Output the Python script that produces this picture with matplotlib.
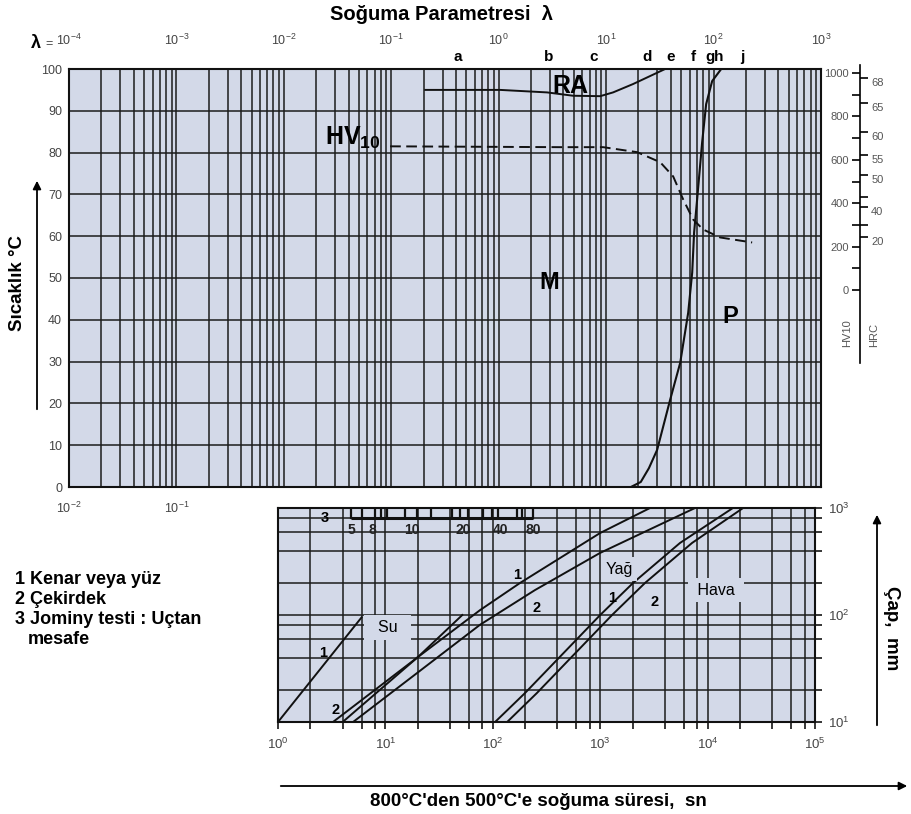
import matplotlib
matplotlib.use('Agg')
import matplotlib.pyplot as plt
from matplotlib.patches import FancyArrowPatch
from matplotlib.ticker import NullLocator

plt.rcParams['font.family'] = ['Liberation Sans', 'DejaVu Sans']
plt.rcParams['mathtext.fontset'] = 'custom'
plt.rcParams['mathtext.rm'] = 'Liberation Sans'
plt.rcParams['mathtext.it'] = 'Liberation Sans:italic'
plt.rcParams['mathtext.bf'] = 'Liberation Sans:bold'

W, H = 912, 814
BG = '#d3d9e8'
GRID = '#1c1c1c'
TICKC = '#444444'

# ---------------- data: upper chart (x = cooling time s, y = temperature) ----------------
ra_time = [20.7, 103, 282, 493, 880, 1160, 1780, 3540]
ra_temp = [95.0, 95.0, 94.4, 93.6, 93.5, 94.4, 96.4, 100]

hv_time = [9.75, 373, 938, 1946, 3186, 4207, 5212, 6457, 8000, 11500, 22860]
hv_temp = [81.5, 81.3, 81.3, 80.1, 77.7, 74.3, 68.8, 64.0, 61.6, 59.7, 58.5]

mp_time = [1700, 2100, 2500, 2985, 3945, 4890, 5805, 6325, 6590, 7030, 7830, 8530, 9700, 11780]
mp_temp = [0, 1.2, 4.5, 8.9, 20.9, 29.7, 41.7, 51.3, 60.9, 68.8, 82.5, 91.6, 97.1, 100]

temp_ticks = list(range(0, 101, 10))
lambda_exps = [-4, -3, -2, -1, 0, 1, 2, 3]
lam_letters = ['a', 'b', 'c', 'd', 'e', 'f', 'g', 'h', 'j']
lam_letter_pos = [0.42, 2.9, 7.7, 24, 40, 65, 93, 111, 185]

hv_scale_ticks = list(range(0, 1001, 100))
hrc_labels = ['68', '65', '60', '55', '50', '', '40', '', '20']
hrc_hv_equiv = [975, 863, 730, 622, 530, 430, 384, 300, 246]

# ---------------- data: lower chart (x = time s, y = diameter mm) ----------------
su1_t = [1.0, 6.0]
su1_d = [10, 95]
su2_t = [3.25, 20.1, 52]
su2_d = [10, 40.5, 100]
yag1_t = [4.0, 20.1, 76, 179, 996, 2910]
yag1_d = [10, 40.5, 111, 199, 583, 1000]
yag2_t = [5.0, 20, 76, 247, 996, 7640]
yag2_d = [10, 29, 81, 171, 380, 1000]
hava1_t = [105, 200, 1000, 2020, 5530, 17200]
hava1_d = [10, 18.7, 100, 199, 471, 1000]
hava2_t = [136, 258, 1290, 2610, 7160, 21400]
hava2_d = [10, 18.7, 100, 199, 471, 1000]

jominy_tick_t = [4.8, 6.1, 8.0, 9.1, 10.4, 15.2, 19.7, 26.6, 41.7, 49.5, 58.7, 81, 98, 112, 168, 187, 237]
jominy_labels = ['5', '8', '10', '20', '40', '80']
jominy_label_t = [4.78, 7.5, 17.7, 52.8, 116.7, 237]


def fx(x):
    return x / W


def fy(y):
    return 1 - y / H


fig = plt.figure(figsize=(W / 100, H / 100), dpi=100)
fig.patch.set_facecolor('white')

# ================= upper axes =================
L1, R1, T1, B1 = 69, 821, 69, 487
ax = fig.add_axes([fx(L1), fy(B1), (R1 - L1) / W, (B1 - T1) / H])
ax.set_facecolor(BG)
ax.set_xscale('log')
ax.set_xlim(1e-2, 1e5)
ax.set_ylim(0, 100)
vpos = []
vlab = []
for e in range(-2, 5):
    for m in range(1, 10):
        vpos.append(m * 10.0 ** e)
        if m == 1 and e in (-2, -1):
            vlab.append(r'$10^{%d}$' % e)
        else:
            vlab.append('')
vpos.append(1e5)
vlab.append('')
ax.xaxis.set_minor_locator(NullLocator())
ax.set_xticks(vpos)
ax.set_xticklabels(vlab)
ax.set_yticks(temp_ticks)
ax.set_yticklabels([str(v) for v in temp_ticks])
ax.tick_params(axis='x', length=0, pad=10, labelsize=9, labelcolor=TICKC)
ax.tick_params(axis='y', length=0, pad=5, labelsize=9, labelcolor=TICKC)
ax.grid(True, color=GRID, lw=1.1)
for s in ax.spines.values():
    s.set_linewidth(1.5)
    s.set_color('#111111')

ax.plot(ra_time, ra_temp, color='#111111', lw=1.4, zorder=3)
ax.plot(hv_time, hv_temp, color='#111111', lw=1.4, ls=(0, (5.5, 2.8)), zorder=3)
ax.plot(mp_time, mp_temp, color='#111111', lw=1.5, zorder=3)

ax.text(460, 96.0, 'RA', fontsize=18, fontweight='bold', ha='center', va='center', zorder=4)
ax.text(2.42, 83.5, r'$\mathbf{HV_{10}}$', fontsize=18, ha='left', va='center', zorder=4)
ax.text(294, 49, 'M', fontsize=17, fontweight='bold', ha='center', va='center', zorder=4)
ax.text(14300, 40.7, 'P', fontsize=17, fontweight='bold', ha='center', va='center', zorder=4)

# lambda axis on top
axt = ax.twiny()
axt.set_xscale('log')
axt.set_xlim(1e-4, 1e3)
axt.xaxis.set_minor_locator(NullLocator())
axt.set_xticks([10.0 ** e for e in lambda_exps])
axt.set_xticklabels([r'$10^{%d}$' % e for e in lambda_exps])
axt.tick_params(axis='x', length=0, pad=15, labelsize=9, labelcolor=TICKC)
for s in axt.spines.values():
    s.set_visible(False)
tr = axt.get_xaxis_transform()
for let, pos in zip(lam_letters, lam_letter_pos):
    axt.text(pos, 1.028, let, transform=tr, fontsize=11, fontweight='bold', ha='center', va='center')

fig.text(fx(36), fy(43), 'λ', fontsize=13, fontweight='bold', ha='center', va='center')
fig.text(fx(49), fy(44), '=', fontsize=9, color=TICKC, ha='center', va='center')
fig.text(fx(442), fy(15), 'Soğuma Parametresi  λ', fontsize=14.5, fontweight='bold', ha='center', va='center')

# temperature axis label + arrow
fig.text(fx(18), fy(283), 'Sıcaklık °C', fontsize=13.5, fontweight='bold', rotation=90, ha='center', va='center')
fig.add_artist(FancyArrowPatch((fx(37), fy(412)), (fx(37), fy(178)), transform=fig.transFigure,
                               arrowstyle='-|>', mutation_scale=12, lw=1.3, color='black'))

# ================= HV10 / HRC scale =================
axs = fig.add_axes([fx(860), fy(363), 0.0001, (363 - 65) / H])
axs.set_ylim(-336, 1037)
axs.set_xticks([])
for k in ('top', 'bottom', 'right'):
    axs.spines[k].set_visible(False)
axs.spines['left'].set_linewidth(1.2)
axs.patch.set_visible(False)
axs.set_yticks(hv_scale_ticks)
axs.set_yticklabels([str(v) if v % 200 == 0 else '' for v in hv_scale_ticks])
axs.tick_params(axis='y', direction='out', length=6, width=1.2, pad=2, labelsize=8, labelcolor='#555555')
axh = axs.twinx()
axh.set_ylim(-336, 1037)
for k in ('top', 'bottom', 'left', 'right'):
    axh.spines[k].set_visible(False)
axh.set_yticks(hrc_hv_equiv)
axh.set_yticklabels(hrc_labels)
axh.tick_params(axis='y', direction='out', length=6, width=1.2, pad=2, labelsize=8, labelcolor='#555555')
for lab in axh.get_yticklabels():
    lab.set_va('top')
fig.text(fx(847), fy(333), 'HV10', fontsize=8, color='#555555', rotation=90, ha='center', va='center')
fig.text(fx(874), fy(335), 'HRC', fontsize=8, color='#555555', rotation=90, ha='center', va='center')

# ================= lower axes =================
L2, R2, T2, B2 = 278, 815, 508, 722
ax2 = fig.add_axes([fx(L2), fy(B2), (R2 - L2) / W, (B2 - T2) / H])
ax2.set_facecolor(BG)
ax2.set_xscale('log')
ax2.set_yscale('log')
ax2.set_xlim(1, 1e5)
ax2.set_ylim(10, 1000)
xp, xl = [], []
for e in range(0, 5):
    for m in (1, 2, 4, 6, 8):
        xp.append(m * 10.0 ** e)
        xl.append(r'$10^{%d}$' % e if m == 1 else '')
xp.append(1e5)
xl.append(r'$10^{5}$')
yp, yl = [], []
for e in range(1, 3):
    for m in (1, 2, 4, 6, 8):
        yp.append(m * 10.0 ** e)
        yl.append(r'$10^{%d}$' % e if m == 1 else '')
yp.append(1e3)
yl.append(r'$10^{3}$')
ax2.xaxis.set_minor_locator(NullLocator())
ax2.yaxis.set_minor_locator(NullLocator())
ax2.set_xticks(xp)
ax2.set_xticklabels(xl)
ax2.set_yticks(yp)
ax2.set_yticklabels(yl)
ax2.yaxis.tick_right()
ax2.tick_params(axis='x', direction='out', length=5, width=1.1, pad=6, labelsize=9.5, labelcolor=TICKC)
ax2.tick_params(axis='y', direction='out', length=5, width=1.1, pad=4, labelsize=9.5, labelcolor=TICKC)
ax2.grid(True, color=GRID, lw=1.1)
for s in ax2.spines.values():
    s.set_linewidth(1.5)
    s.set_color('#111111')

for t, d in ((su1_t, su1_d), (su2_t, su2_d), (yag1_t, yag1_d), (yag2_t, yag2_d),
             (hava1_t, hava1_d), (hava2_t, hava2_d)):
    ax2.plot(t, d, color='#111111', lw=1.4, zorder=3)

lab_kw = dict(fontsize=11.5, ha='center', va='center', zorder=5,
              bbox=dict(boxstyle='square,pad=0.3', fc=BG, ec='none'))
ax2.text(10.5, 76, '  Su  ', **lab_kw)
ax2.text(1496, 269, 'Yağ', **lab_kw)
ax2.text(11970, 171, ' Hava ', **lab_kw)

num_kw = dict(fontsize=10.5, fontweight='bold', ha='center', va='center', zorder=5)
ax2.text(2.62, 44, '1', **num_kw)
ax2.text(3.4, 12.9, '2', **num_kw)
ax2.text(168, 237, '1', **num_kw)
ax2.text(258, 116, '2', **num_kw)
ax2.text(1288, 144, '1', **num_kw)
ax2.text(3240, 132, '2', **num_kw)
ax2.text(2.74, 815, '3', **num_kw)

# Jominy ruler
ax2.plot([jominy_tick_t[0], jominy_tick_t[-1]], [800, 800], color='#111111', lw=2.2, zorder=4,
         solid_capstyle='butt')
for t in jominy_tick_t:
    ax2.plot([t, t], [800, 1000], color='#111111', lw=1.6, zorder=4)
for lab, t in zip(jominy_labels, jominy_label_t):
    ax2.text(t, 622, lab, fontsize=10, fontweight='bold', color='#222222', ha='center', va='center', zorder=5)

# legend text
for txt, xx, yy in (('1 Kenar veya yüz', 15, 580), ('2 Çekirdek', 15, 600),
                    ('3 Jominy testi : Uçtan', 15, 620), ('mesafe', 28, 640)):
    fig.text(fx(xx), fy(yy), txt, fontsize=13, fontweight='bold', va='center')

# diameter axis label + arrow
fig.text(fx(892), fy(628), 'Çap,  mm', fontsize=13.5, fontweight='bold', rotation=-90, ha='center', va='center')
fig.add_artist(FancyArrowPatch((fx(877), fy(728)), (fx(877), fy(512)), transform=fig.transFigure,
                               arrowstyle='-|>', mutation_scale=12, lw=1.3, color='black'))

# time axis label + arrow
fig.add_artist(FancyArrowPatch((fx(278), fy(786)), (fx(910), fy(786)), transform=fig.transFigure,
                               arrowstyle='-|>', mutation_scale=12, lw=1.3, color='black'))
fig.text(fx(538), fy(801), "800°C'den 500°C'e soğuma süresi,  sn", fontsize=13.5, fontweight='bold',
         ha='center', va='center')

fig.savefig('out.png', dpi=100, facecolor='white')
